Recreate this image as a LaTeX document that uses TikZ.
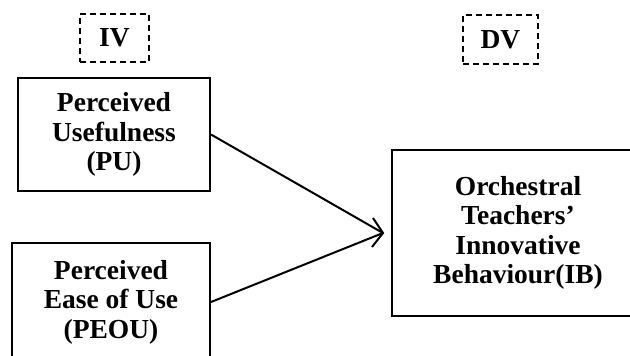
\documentclass[tikz,border=0pt]{standalone}
\usepackage{fontspec}
\setmainfont{Liberation Serif}
\usetikzlibrary{calc}
\begin{document}
\begin{tikzpicture}[x=1pt,y=-1pt,
  txt/.style={font=\fontsize{27.5}{29.5}\selectfont\bfseries, align=center},
  varbox/.style={txt, draw, line width=2pt, inner sep=0pt},
  tagbox/.style={txt, draw, dashed, dash pattern=on 6pt off 4pt, line width=1.6pt, inner sep=0pt},
  link/.style={line width=2pt}]
\useasboundingbox (0,0) rectangle (630,356);
\clip (0,0) rectangle (630,356);
\node[tagbox, minimum width=69pt, minimum height=48pt] (iv) at (114.5,38) {IV};
\node[tagbox, minimum width=75pt, minimum height=49pt] (dv) at (500.5,39.5) {DV};
\node[varbox, minimum width=192pt, minimum height=113pt] (pu) at (114,134.5) {Perceived\\Usefulness\\(PU)};
\node[varbox, minimum width=198pt, minimum height=118pt] (peou) at (111,302) {Perceived\\Ease of Use\\(PEOU)};
\node[varbox, minimum width=252pt, minimum height=166pt] (ib) at (518,233) {Orchestral\\Teachers’\\Innovative\\Behaviour(IB)};
\coordinate (tip) at (383,233);
\draw[link] (pu.east) -- (tip);
\draw[link] (peou.east) -- (tip);
\draw[link, line join=miter] ($(tip)+(-10,-15)$) -- (tip) -- ($(tip)+(-11,14)$);
\end{tikzpicture}
\end{document}
